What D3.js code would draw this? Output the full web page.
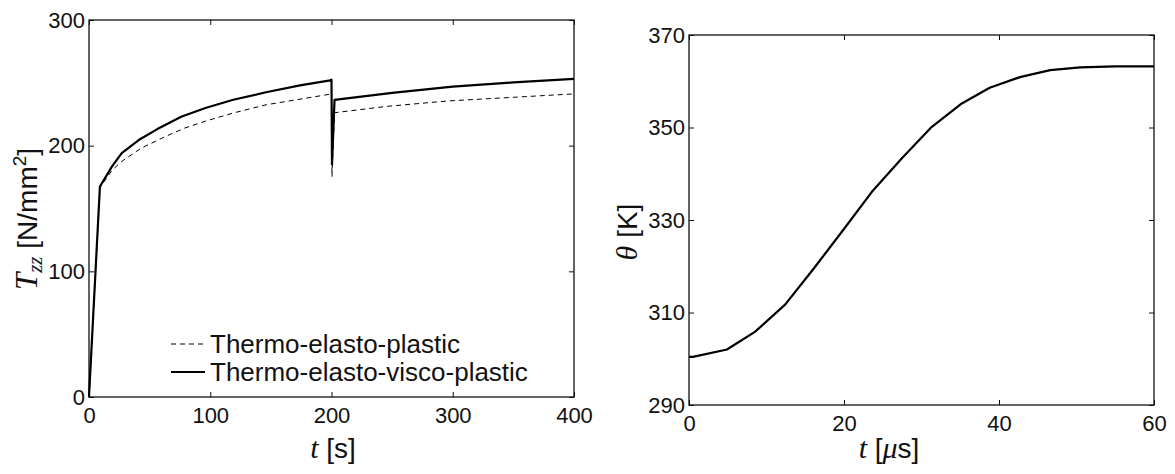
<!DOCTYPE html>
<html>
<head>
<meta charset="utf-8">
<script src="https://cdn.jsdelivr.net/npm/d3@7"></script>
<style>
  body { margin: 0; background: #fff; }
  svg { display: block; }
  .axis text { font-family: "Liberation Sans", Arial, sans-serif; font-size: 22px; fill: #111; }
  .axis path { display: none; }
  .axis line { stroke: #111; stroke-width: 1; }
  .frame { fill: none; stroke: #111; stroke-width: 1.3; }
  .lbl { font-family: "Liberation Sans", Arial, sans-serif; font-size: 28px; fill: #111; }
  .math { font-family: "Liberation Serif", "DejaVu Serif", serif; font-style: italic; }
  .legend text { font-family: "Liberation Sans", Arial, sans-serif; font-size: 26px; fill: #111; }
</style>
</head>
<body>
<svg id="chart" width="1175" height="474"></svg>
<script>
// left panel: stress T_zz over time
const timeEp = [0, 9, 19, 27, 43, 63, 79, 96, 119, 146, 174, 199, 200, 200.4, 202.5, 245, 295, 350, 400];
const stressEp = [0, 166.5, 180.5, 187.5, 198, 207.3, 214, 219.5, 226, 232.5, 237, 241, 241.2, 175.4, 226.2, 231.2, 235.5, 238.5, 241.2];
const timeEvp = [0, 9, 19, 27, 41, 56, 76, 96, 119, 146, 174, 199, 200, 200.4, 202.5, 250, 300, 350, 400];
const stressEvp = [0, 167.5, 183.5, 194, 204.5, 213, 223, 230, 236.5, 242.5, 248, 252, 252.5, 185, 236.5, 242, 247, 250.3, 253.2];
const leftXTicks = [0, 100, 200, 300, 400];
const leftYTicks = [0, 100, 200, 300];
const legendLabels = ['Thermo-elasto-plastic', 'Thermo-elasto-visco-plastic'];

// right panel: temperature over time
const timeTheta = [0, 0.5, 4.9, 8.5, 12.4, 16, 19.7, 23.6, 27.5, 31.3, 35.2, 38.8, 42.7, 46.6, 50.5, 55, 60];
const theta = [300.4, 300.4, 302.0, 305.8, 311.7, 319.3, 327.4, 336.1, 343.4, 350.1, 355.2, 358.6, 360.9, 362.4, 363.0, 363.2, 363.2];
const rightXTicks = [0, 20, 40, 60];
const rightYTicks = [290, 310, 330, 350, 370];

const svg = d3.select('#chart');

function panel(box, xDomain, yDomain, xTicks, yTicks) {
    const x = d3.scaleLinear().domain(xDomain).range([box.left, box.right]);
    const y = d3.scaleLinear().domain(yDomain).range([box.bottom, box.top]);
    const g = svg.append('g');
    g.append('g').attr('class', 'axis')
        .attr('transform', `translate(0,${box.bottom})`)
        .call(d3.axisBottom(x).tickValues(xTicks).tickSizeInner(-5).tickSizeOuter(0).tickPadding(10));
    g.append('g').attr('class', 'axis')
        .attr('transform', `translate(0,${box.top})`)
        .call(d3.axisTop(x).tickValues(xTicks).tickSizeInner(-5).tickSizeOuter(0).tickFormat(''));
    g.append('g').attr('class', 'axis')
        .attr('transform', `translate(${box.left},0)`)
        .call(d3.axisLeft(y).tickValues(yTicks).tickSizeInner(-5).tickSizeOuter(0).tickPadding(4));
    g.append('g').attr('class', 'axis')
        .attr('transform', `translate(${box.right},0)`)
        .call(d3.axisRight(y).tickValues(yTicks).tickSizeInner(-5).tickSizeOuter(0).tickFormat(''));
    g.append('rect').attr('class', 'frame')
        .attr('x', box.left).attr('y', box.top)
        .attr('width', box.right - box.left).attr('height', box.bottom - box.top);
    return { x, y, g };
}

// left
const L = panel({ left: 89, right: 574, top: 20, bottom: 397 }, [0, 400], [0, 300], leftXTicks, leftYTicks);
const lineL = (ts, vs) => d3.line().x((d, i) => L.x(ts[i])).y(d => L.y(d))(vs);
L.g.append('path').attr('d', lineL(timeEp, stressEp))
    .attr('fill', 'none').attr('stroke', '#000').attr('stroke-width', 1).attr('stroke-dasharray', '5,4');
L.g.append('path').attr('d', lineL(timeEvp, stressEvp))
    .attr('fill', 'none').attr('stroke', '#000').attr('stroke-width', 2.2).attr('stroke-linejoin', 'round');

const legend = svg.append('g').attr('class', 'legend');
legendLabels.forEach((lab, i) => {
    const ly = 344 + i * 28;
    legend.append('line').attr('x1', 171).attr('x2', 205).attr('y1', ly).attr('y2', ly)
        .attr('stroke', '#000')
        .attr('stroke-width', i === 0 ? 1 : 2.2)
        .attr('stroke-dasharray', i === 0 ? '5,4' : null);
    legend.append('text').attr('x', 210).attr('y', ly).attr('dy', '0.35em').text(lab);
});

// left labels
const yl = svg.append('text').attr('class', 'lbl')
    .attr('text-anchor', 'middle')
    .attr('transform', 'translate(37,219) rotate(-90)');
yl.append('tspan').attr('class', 'math').attr('font-size', 31).text('T');
yl.append('tspan').attr('class', 'math').attr('font-size', 21).attr('dy', 5).text('zz');
yl.append('tspan').attr('dy', -5).text(' [N/mm');
yl.append('tspan').attr('font-size', 19).attr('dy', -11).text('2');
yl.append('tspan').attr('dy', 11).text(']');

const xl = svg.append('text').attr('class', 'lbl')
    .attr('text-anchor', 'middle').attr('x', 333).attr('y', 458);
xl.append('tspan').attr('class', 'math').attr('font-size', 30).text('t');
xl.append('tspan').text(' [s]');

// right
const R = panel({ left: 689, right: 1154, top: 35, bottom: 405 }, [0, 60], [290, 370], rightXTicks, rightYTicks);
R.g.append('path')
    .attr('d', d3.line().x((d, i) => R.x(timeTheta[i])).y(d => R.y(d))(theta))
    .attr('fill', 'none').attr('stroke', '#000').attr('stroke-width', 2.2).attr('stroke-linejoin', 'round');

const yr = svg.append('text').attr('class', 'lbl')
    .attr('text-anchor', 'middle')
    .attr('transform', 'translate(37,232) rotate(-90)')
    .attr('transform', 'translate(637,232) rotate(-90)');
yr.append('tspan').attr('class', 'math').attr('font-size', 30).text('θ');
yr.append('tspan').text(' [K]');

const xr = svg.append('text').attr('class', 'lbl')
    .attr('text-anchor', 'middle').attr('x', 889).attr('y', 458);
xr.append('tspan').attr('class', 'math').attr('font-size', 30).text('t');
xr.append('tspan').text(' [');
xr.append('tspan').attr('class', 'math').attr('font-size', 30).text('μ');
xr.append('tspan').text('s]');
</script>
</body>
</html>
